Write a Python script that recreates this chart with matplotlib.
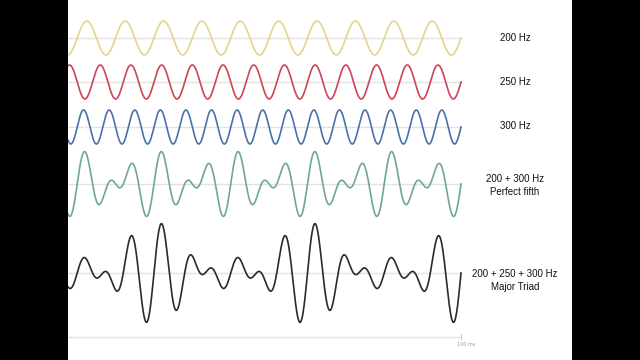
import numpy as np
import matplotlib.pyplot as plt

# tones (Hz) used in each row, top to bottom
rows = [[200], [250], [300], [200, 300], [200, 250, 300]]
labels = ["200 Hz", "250 Hz", "300 Hz", "200 + 300 Hz\nPerfect fifth",
          "200 + 250 + 300 Hz\nMajor Triad"]
colors = ["#e6d38c", "#cc4556", "#4a70ad", "#6ea894", "#2a2a2a"]
t_start, t_end = 48.8, 100.0   # ms shown
end_label = "100 ms"

# layout in pixels (figure is 640x360)
centers = [38, 82, 127, 184, 273]
label_y = [38, 82, 126, 185.5, 280.5]
amp = 17
ax_left, ax_right = 68, 572
x0, x1 = 68, 461
px_per_ms = (x1 - x0) / (t_end - t_start)

fig = plt.figure(figsize=(6.4, 3.6), dpi=100, facecolor="black")
ax = fig.add_axes([ax_left / 640, 0, (ax_right - ax_left) / 640, 1])
ax.set_facecolor("white")
ax.set_xlim(t_start, t_start + (ax_right - x0) / px_per_ms)
ax.set_ylim(360, 0)
for s in ax.spines.values():
    s.set_visible(False)
ax.set_xticks([])
ax.set_yticks([])

t = np.linspace(t_start, t_end, 3000)
for freqs, lab, c, yc, ly in zip(rows, labels, colors, centers, label_y):
    wave = np.zeros_like(t)
    for f in freqs:
        wave += np.sin(2 * np.pi * f * t / 1000)
    ax.plot([t_start, t_end], [yc, yc], color="#e2e2e2", lw=1, zorder=1)
    ax.plot(t, yc - amp * wave, color=c, lw=1.2, zorder=2)
    ax.text(t_start + (515 - x0) / px_per_ms, ly, lab, ha="center", va="center",
            fontsize=7, family="Liberation Sans", color="#111111",
            linespacing=1.35)

# time axis at the bottom
ax.plot([t_start, t_end], [337, 337], color="#e2e2e2", lw=1)
ax.plot([t_end, t_end], [334, 339], color="#cccccc", lw=0.8)
ax.text(t_end + 5 / px_per_ms, 344, end_label, ha="center", va="center",
        fontsize=3.5, color="#999999")

fig.savefig("out.png", dpi=100, facecolor="black")
